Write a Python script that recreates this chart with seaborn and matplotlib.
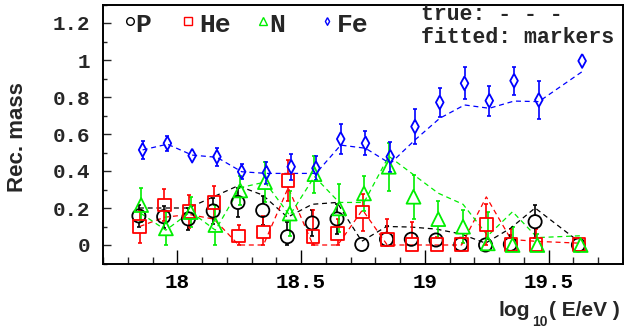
import numpy as np
import pandas as pd
import matplotlib
matplotlib.use("Agg")
import matplotlib.pyplot as plt
from matplotlib.ticker import MultipleLocator, FuncFormatter
import seaborn as sns

# ---- data -------------------------------------------------------------
log_e = [17.86, 17.96, 18.06, 18.16, 18.26, 18.36, 18.46, 18.56, 18.66,
         18.76, 18.86, 18.96, 19.06, 19.16, 19.26, 19.36, 19.46, 19.635]

species = ["P", "He", "N", "Fe"]

# fitted fractions (markers)
fit_p = [0.157, 0.153, 0.141, 0.184, 0.230, 0.187, 0.045, 0.119, 0.141,
         0.003, 0.031, 0.031, 0.027, 0.004, 0.000, 0.004, 0.126, 0.000]
fit_he = [0.099, 0.216, 0.180, 0.231, 0.049, 0.070, 0.350, 0.045, 0.063,
          0.178, 0.031, 0.004, 0.004, 0.004, 0.112, 0.004, 0.004, 0.004]
fit_n = [0.216, 0.090, 0.178, 0.108, 0.295, 0.340, 0.170, 0.383, 0.198,
         0.279, 0.423, 0.261, 0.140, 0.099, 0.009, 0.000, 0.000, 0.000]
fit_fe = [0.514, 0.550, 0.483, 0.477, 0.396, 0.391, 0.423, 0.415, 0.573,
          0.550, 0.477, 0.640, 0.771, 0.874, 0.780, 0.888, 0.784, 0.995]

# fit uncertainties
err_p = [0.06, 0.06, 0.06, 0.07, 0.08, 0.08, 0.08, 0.07, 0.08,
         0.01, 0.07, 0.035, 0.03, 0.02, 0.01, 0.05, 0.09, 0.01]
err_he = [0.09, 0.085, 0.09, 0.09, 0.06, 0.085, 0.11, 0.145, 0.08,
          0.10, 0.11, 0.12, 0.04, 0.03, 0.11, 0.08, 0.08, 0.01]
err_n = [0.09, 0.09, 0.08, 0.11, 0.08, 0.11, 0.12, 0.10, 0.13,
         0.095, 0.13, 0.12, 0.10, 0.09, 0.17, 0.10, 0.06, 0.01]
err_fe = [0.05, 0.04, 0.035, 0.05, 0.04, 0.06, 0.07, 0.065, 0.08,
          0.064, 0.08, 0.095, 0.08, 0.087, 0.081, 0.075, 0.105, 0.01]

# true fractions (dashed lines)
true_p = [0.20, 0.20, 0.20, 0.26, 0.32, 0.27, 0.15, 0.22, 0.23,
          0.02, 0.10, 0.097, 0.086, 0.06, 0.01, 0.09, 0.20, 0.02]
true_he = [0.10, 0.15, 0.165, 0.14, 0.0, 0.0, 0.31, 0.0, 0.0,
           0.19, 0.0, 0.0, 0.0, 0.0, 0.26, 0.03, 0.02, 0.01]
true_n = [0.17, 0.08, 0.18, 0.08, 0.31, 0.34, 0.16, 0.37, 0.23,
          0.23, 0.48, 0.38, 0.28, 0.22, 0.05, 0.18, 0.04, 0.05]
true_fe = [0.514, 0.545, 0.486, 0.474, 0.396, 0.387, 0.387, 0.387, 0.54,
           0.523, 0.44, 0.568, 0.685, 0.757, 0.739, 0.778, 0.775, 0.937]

x_ticks = [18, 18.5, 19, 19.5]
y_ticks = [0, 0.2, 0.4, 0.6, 0.8, 1.0, 1.2]

# ---- styling ------------------------------------------------------------
colors = {"P": "#000000", "He": "#ff0000", "N": "#00ee00", "Fe": "#0000ff"}
diamond = [(0, 1), (0.55, 0), (0, -1), (-0.55, 0), (0, 1)]
markers = {"P": "o", "He": "s", "N": "^", "Fe": diamond}
msize = {"P": 9.5, "He": 9.0, "N": 10.0, "Fe": 10.0}
shift = {"P": -0.015, "He": -0.012, "N": -0.006, "Fe": 0.0}

fitted = {"P": fit_p, "He": fit_he, "N": fit_n, "Fe": fit_fe}
errors = {"P": err_p, "He": err_he, "N": err_n, "Fe": err_fe}
truth = {"P": true_p, "He": true_he, "N": true_n, "Fe": true_fe}

rows = []
for sp in species:
    for i, e in enumerate(log_e):
        rows.append({"species": sp, "logE": e + shift[sp],
                     "fitted": fitted[sp][i], "err": errors[sp][i],
                     "true": truth[sp][i]})
df = pd.DataFrame(rows)

sns.set_theme(style="white")
plt.rcParams["font.family"] = ["Liberation Mono", "DejaVu Sans Mono"]
plt.rcParams["font.weight"] = "bold"

W, H = 624, 328
fig = plt.figure(figsize=(W / 100, H / 100), dpi=100)
ax = fig.add_axes([103 / W, 1 - 263.5 / H, 520 / W, 259 / H])
ax.set_xlim(17.7, 19.8)
ax.set_ylim(-0.1, 1.3)

# data units per pixel along y (keeps the marker interior free of bars)
dy_px = 1.4 / 259.0

for sp in species:
    d = df[df["species"] == sp]
    c = colors[sp]
    sns.lineplot(data=d, x="logE", y="true", color=c, lw=0.9,
                 linestyle=(0, (4, 3)), ax=ax, legend=False,
                 estimator=None, sort=True)

for sp in species:
    d = df[df["species"] == sp]
    c = colors[sp]
    x = d["logE"].to_numpy()
    y = d["fitted"].to_numpy()
    up = d["err"].to_numpy()
    lo = np.minimum(up, y)
    gap = msize[sp] * 1.389 / 2 * dy_px
    show_up = up > gap
    show_lo = lo > gap
    ax.vlines(x[show_up], y[show_up] + gap, y[show_up] + up[show_up],
              color=c, lw=1.2)
    ax.vlines(x[show_lo], y[show_lo] - lo[show_lo], y[show_lo] - gap,
              color=c, lw=1.2)
    ax.scatter(x[show_up], y[show_up] + up[show_up], marker="_", s=12,
               color=c, linewidths=1.2)
    ax.scatter(x[show_lo], y[show_lo] - lo[show_lo], marker="_", s=12,
               color=c, linewidths=1.2)
    sns.scatterplot(x=x, y=y, marker=markers[sp], s=msize[sp] ** 2,
                    facecolors="none", edgecolor=c, linewidth=1.3,
                    ax=ax, legend=False, zorder=3)

# ---- axes ---------------------------------------------------------------
ax.set_xlabel("")
ax.set_ylabel("")
ax.xaxis.set_major_locator(MultipleLocator(0.5))
ax.xaxis.set_minor_locator(MultipleLocator(0.1))
ax.yaxis.set_major_locator(MultipleLocator(0.2))
ax.yaxis.set_minor_locator(MultipleLocator(0.1))
ax.set_xticks(x_ticks)
ax.set_yticks(y_ticks)
fmt = FuncFormatter(lambda v, p: f"{v:g}")
ax.xaxis.set_major_formatter(fmt)
ax.yaxis.set_major_formatter(fmt)
ax.tick_params(axis="x", which="major", direction="in", length=10,
               width=1.0, pad=7, labelsize=15, bottom=True, top=False,
               colors="black")
ax.tick_params(axis="x", which="minor", direction="in", length=4.8,
               width=1.0, bottom=True, top=False)
ax.tick_params(axis="y", which="major", direction="in", length=6,
               width=1.0, pad=9, labelsize=15, left=True, right=False)
ax.tick_params(axis="y", which="minor", direction="in", length=3,
               width=1.0, left=True, right=False)
for lab in ax.get_xticklabels() + ax.get_yticklabels():
    lab.set_fontweight("bold")
for s in ax.spines.values():
    s.set_color("black")
    s.set_linewidth(1.4)

def fx(px):
    return px / W

def fy(py):
    return 1 - py / H

# axis titles
fig.text(fx(18), fy(137), "Rec. mass", rotation=90, ha="center",
         va="center", family="Liberation Sans", weight="bold", size=16)
fig.text(fx(620), fy(316), "( E/eV )", ha="right", va="baseline",
         family="Liberation Sans", weight="bold", size=15)
fig.text(fx(548), fy(326), "10", ha="right", va="baseline",
         family="Liberation Sans", weight="bold", size=10)
fig.text(fx(530), fy(316), "log", ha="right", va="baseline",
         family="Liberation Sans", weight="bold", size=15)

# legend
leg_mark_x = {"P": 130, "He": 188, "N": 263, "Fe": 327}
leg_text_x = {"P": 135, "He": 199, "N": 269, "Fe": 337}
for sp in species:
    fig.lines.append(plt.Line2D([fx(leg_mark_x[sp])], [fy(21)],
                                transform=fig.transFigure,
                                marker=markers[sp], ms=5.5, mfc="none",
                                mec=colors[sp], mew=1.0, ls="none"))
    fig.text(fx(leg_text_x[sp]), fy(32), sp, ha="left", va="baseline",
             size=19, weight="bold")
fig.text(fx(421), fy(20), "true: - - -", ha="left", va="baseline",
         size=15.5, weight="bold")
fig.text(fx(421), fy(43), "fitted: markers", ha="left", va="baseline",
         size=15.5, weight="bold")

fig.savefig("out.png", dpi=100)
